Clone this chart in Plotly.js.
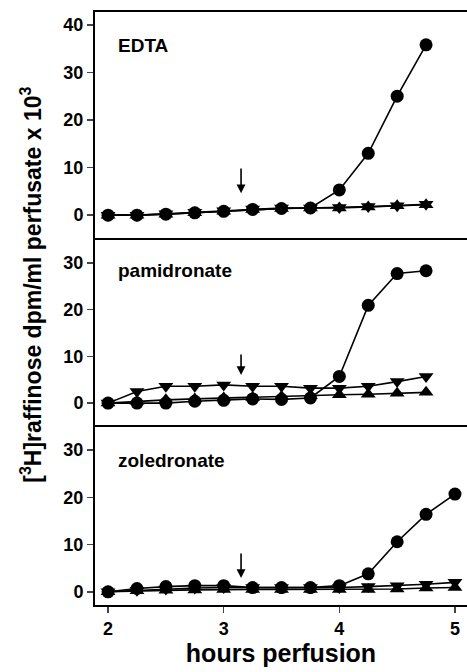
<!DOCTYPE html>
<html><head><meta charset="utf-8">
<script src="https://cdn.plot.ly/plotly-3.0.1.min.js"></script>
<style>body{margin:0;background:#fff}#c{width:467px;height:672px}</style>
</head><body><div id="c"></div>
<script>
const hours12 = [2,2.25,2.5,2.75,3,3.25,3.5,3.75,4,4.25,4.5,4.75];
const hours13 = [2,2.25,2.5,2.75,3,3.25,3.5,3.75,4,4.25,4.5,4.75,5];

const edtaCircle = [0,0,0.2,0.5,0.8,1.2,1.4,1.5,5.3,13.0,25.0,35.8];
const edtaUp     = [0,0,0.2,0.5,0.8,1.2,1.4,1.5,1.5,1.7,2.0,2.2];
const edtaDown   = [0,0,0.3,0.6,0.9,1.3,1.5,1.5,1.6,1.8,2.0,2.3];

const pamCircle = [0,0,0,0.4,0.6,0.9,0.8,1.1,5.7,20.9,27.7,28.3];
const pamDown   = [0,2.5,3.6,3.6,3.9,3.6,3.6,3.2,3.2,3.6,4.6,5.7];
const pamUp     = [0,0.4,0.7,0.9,1.1,1.2,1.4,1.6,1.8,1.9,2.1,2.3];

const zolCircle = [0,0.7,1.1,1.3,1.3,0.9,0.9,0.9,1.3,3.8,10.6,16.4,20.7];
const zolDown   = [0,0.3,0.6,0.8,0.9,0.9,0.9,0.9,0.9,1.1,1.3,1.6,2.0];
const zolUp     = [0,0.2,0.3,0.4,0.5,0.5,0.5,0.5,0.5,0.5,0.6,0.8,0.9];

const panelLabels = ["EDTA","pamidronate","zoledronate"];
const labelY = [35.6, 28.3, 27.8];
const arrowX = 3.15;
const arrowTop = [10.1, 10.7, 8.4];
const arrowBottom = [4.6, 6.0, 2.9];

const xTicks = [2,3,4,5];
const yTicks1 = [0,10,20,30,40];
const yTicks23 = [0,10,20,30];

const F = "Liberation Sans, Arial, sans-serif";
const lineS = {color:'#000', width:1.6};
function tr(x, y, sym, ax, ay){
  return {x:x, y:y, xaxis:ax, yaxis:ay, type:'scatter', mode:'lines+markers',
    line:lineS, marker:{symbol:sym, size:13, color:'#000'}, showlegend:false, hoverinfo:'skip'};
}
const traces = [
  tr(hours12, edtaUp, 'triangle-up','x','y'),
  tr(hours12, edtaDown, 'triangle-down','x','y'),
  tr(hours12, edtaCircle, 'circle','x','y'),
  tr(hours12, pamUp, 'triangle-up','x2','y2'),
  tr(hours12, pamDown, 'triangle-down','x2','y2'),
  tr(hours12, pamCircle, 'circle','x2','y2'),
  tr(hours13, zolUp, 'triangle-up','x3','y3'),
  tr(hours13, zolDown, 'triangle-down','x3','y3'),
  tr(hours13, zolCircle, 'circle','x3','y3'),
];

const xr = [1.887, 5.104];
function xa(anchor, show, line){
  return {range:xr, anchor:anchor, showline:line, linecolor:'#000', linewidth:2, mirror:true,
    showgrid:false, zeroline:false, tickvals:xTicks, ticks: show?'outside':'', ticklen:6, tickwidth:1.5,
    showticklabels:show, tickfont:{family:F, size:18, color:'#000', weight:'bold'},
    title: show?{text:'hours perfusion', font:{family:F, size:25, color:'#000', weight:'bold'}, standoff:0}:{text:''}};
}
function ya(anchor, dom, rng, tv){
  return {domain:dom, range:rng, anchor:anchor, showline:true, linecolor:'#000', linewidth:2, mirror:false,
    showgrid:false, zeroline:false, tickvals:tv, ticks:'outside', ticklen:6, tickwidth:1.5,
    tickfont:{family:F, size:18, color:'#000', weight:'bold'}};
}
const annotations = [];
const yrefs = ['y','y2','y3'], xrefs=['x','x2','x3'];
for (let i=0;i<3;i++){
  annotations.push({x:2.07, y:labelY[i], xref:xrefs[i], yref:yrefs[i], text:panelLabels[i], showarrow:false,
    xanchor:'left', yanchor:'middle', font:{family:F, size:19, color:'#000', weight:'bold'}});
  annotations.push({x:arrowX, y:arrowBottom[i], ax:arrowX, ay:arrowTop[i], xref:xrefs[i], yref:yrefs[i],
    axref:xrefs[i], ayref:yrefs[i], text:'', showarrow:true, arrowhead:2, arrowsize:1.1, arrowwidth:1.6, arrowcolor:'#000'});
}
annotations.push({x:-0.172, y:0.54, xref:'paper', yref:'paper', textangle:-90, showarrow:false,
  xanchor:'center', yanchor:'middle',
  text:'[<sup>3</sup>H]raffinose dpm/ml perfusate x 10<sup>3</sup>',
  font:{family:F, size:23, color:'#000', weight:'bold'}});

const layout = {
  width:467, height:672, margin:{l:95, r:0, t:12, b:67},
  paper_bgcolor:'#fff', plot_bgcolor:'#fff',
  xaxis: xa('y', false, true), xaxis2: xa('y2', false, false), xaxis3: xa('y3', true, true),
  yaxis: ya('x', [0.6189,1], [-4.8,42.7], yTicks1),
  yaxis2: ya('x2', [0.3002,0.6189], [-5.1,35.3], yTicks23),
  yaxis3: ya('x3', [0,0.3002], [-2.8,34.9], yTicks23),
  annotations: annotations
};
Plotly.newPlot('c', traces, layout, {staticPlot:true, displayModeBar:false});
</script></body></html>
